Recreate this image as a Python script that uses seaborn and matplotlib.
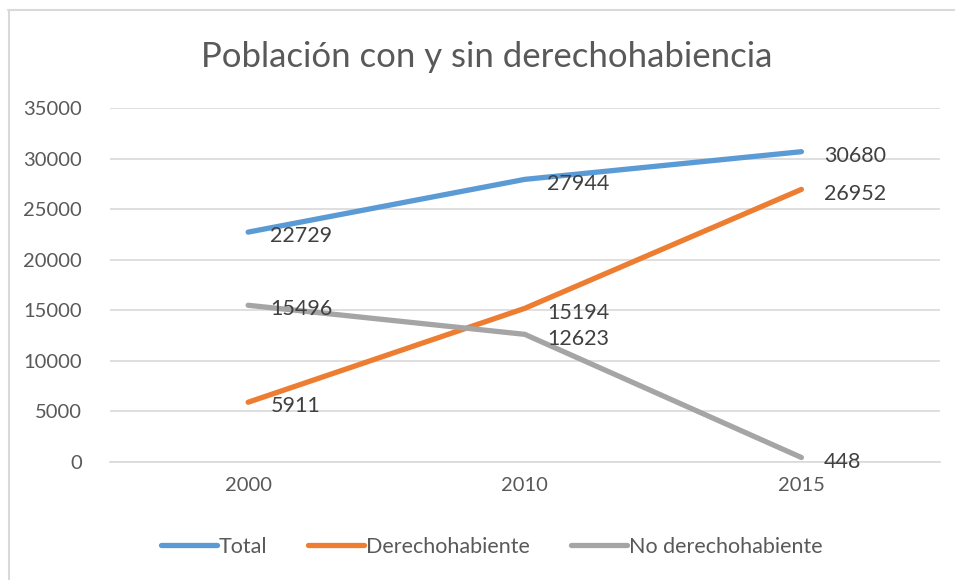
import pandas as pd
import numpy as np
import matplotlib.pyplot as plt
import seaborn as sns
from matplotlib.lines import Line2D

# data
years = ["2000", "2010", "2015"]
total = [22729, 27944, 30680]
derecho = [5911, 15194, 26952]
no_derecho = [15496, 12623, 448]
series_names = ["Total", "Derechohabiente", "No derechohabiente"]

df = pd.DataFrame({"Año": years * 3,
                   "Población": total + derecho + no_derecho,
                   "Serie": [s for s in series_names for _ in years]})

sns.set_style("white")
plt.rcParams['font.family'] = ['Lato', 'DejaVu Sans']

colors = ["#5B9BD5", "#ED7D31", "#A5A5A5"]
txt = "#595959"

fig = plt.figure(figsize=(9.55, 5.8), dpi=100)
ax = fig.add_axes([0.115, 0.2034, 0.869, 0.6104])

sns.lineplot(data=df, x="Año", y="Población", hue="Serie", palette=colors,
             linewidth=3.8, ax=ax, legend=True, sort=False)
for ln in ax.get_lines():
    ln.set_solid_capstyle("round")

ax.set_xlim(-0.5, 2.5)
ax.set_ylim(0, 35000)
ax.set_yticks(np.arange(0, 35001, 5000))
ax.grid(axis="y", color="#D9D9D9", linewidth=1.2)
ax.set_axisbelow(True)
for s in ["top", "right", "left"]:
    ax.spines[s].set_visible(False)
ax.spines["bottom"].set_color("#D9D9D9")
ax.spines["bottom"].set_linewidth(1.2)
ax.tick_params(axis="both", length=0, labelsize=14.5, colors=txt)
ax.tick_params(axis="y", pad=20)
ax.tick_params(axis="x", pad=11)
ax.set_xlabel("")
ax.set_ylabel("")

# data labels to the right of each point
for vals in [total, derecho, no_derecho]:
    for i, v in enumerate(vals):
        ax.annotate(str(v), (i, v), xytext=(16, -3), textcoords="offset points",
                    ha="left", va="center", fontsize=15.5, color="#404040")

fig.suptitle("Población con y sin derechohabiencia", x=0.51, y=0.93, fontsize=25, color=txt)

h, l = ax.get_legend_handles_labels()
leg = ax.legend(h, l, loc="center", bbox_to_anchor=(0.515, 0.057), bbox_transform=fig.transFigure,
                ncol=3, frameon=False, fontsize=15.5, handlelength=2.6, handletextpad=0.1,
                columnspacing=1.9)
for t in leg.get_texts():
    t.set_color(txt)
for lh in leg.get_lines():
    lh.set_linewidth(3.8)
    lh.set_solid_capstyle("round")

# outer chart frame (cropped at right and bottom)
fig.add_artist(Line2D([8 / 955, 1], [1 - 9.5 / 580] * 2, color="#D9D9D9", lw=1.5,
                      transform=fig.transFigure))
fig.add_artist(Line2D([8.5 / 955] * 2, [0, 1 - 9.5 / 580], color="#D9D9D9", lw=1.5,
                      transform=fig.transFigure))

fig.savefig("out.png", dpi=100)
